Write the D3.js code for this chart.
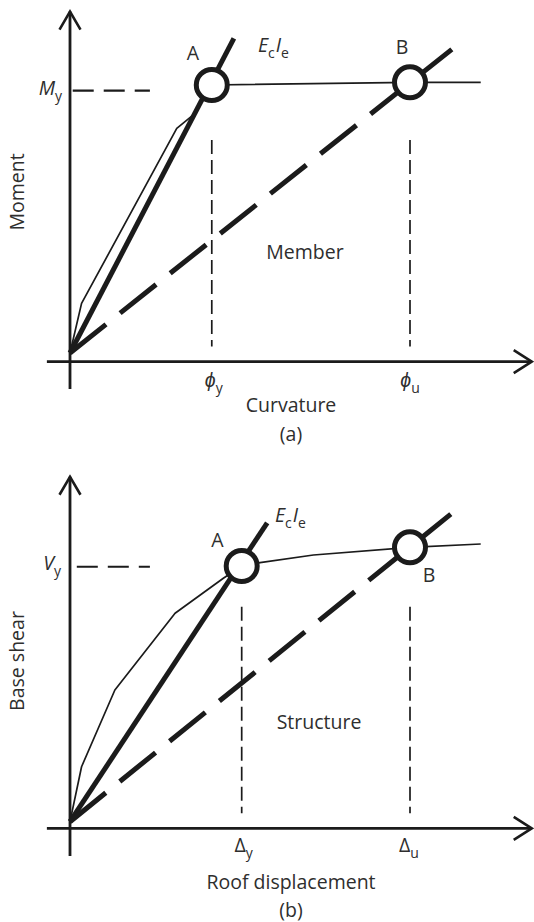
<!DOCTYPE html>
<html lang="en">
<head>
    <meta charset="UTF-8">
    <title>Moment-curvature and pushover idealisation</title>
    <style>
        body { margin: 0; background: #fff; }
        svg { display: block; }
        text { font-family: "Open Sans", sans-serif; fill: #2e2e2e; }
    </style>
</head>
<body>
<svg width="534" height="922"></svg>

<script src="https://d3js.org/d3.v7.min.js"></script>
<script>
    // ---- panel (a): member, moment vs curvature (arbitrary units, phi_u = 10, M_y = 10)
    const memberCurve = [[0, 0], [0.34, 1.85], [3.14, 8.38], [3.68, 8.94], [4.17, 10], [10, 10.1], [12.08, 10.1]];
    const memberStiff = [[0, 0], [4.82, 11.74]];         // EcIe line
    const memberUlt = [[0, 0], [11.23, 11.33]];          // secant to ultimate point
    const memberPts = [{name: "A", x: 4.17, y: 10}, {name: "B", x: 10, y: 10.1}];
    const memberMarks = {yieldX: 4.17, ultX: 10, yieldY: 9.79};

    // ---- panel (b): structure, base shear vs roof displacement
    const structCurve = [[0, 0], [0.34, 2.15], [1.32, 5.15], [3.09, 8.15], [4.51, 9.52], [5.05, 10], [5.59, 10.13], [7.16, 10.43], [10, 10.73], [12.08, 10.86]];
    const structStiff = [[0, 0], [5.8, 11.69]];
    const structUlt = [[0, 0], [11.2, 12.03]];
    const structPts = [{name: "A", x: 5.05, y: 10}, {name: "B", x: 10, y: 10.73}];
    const structMarks = {yieldX: 5.05, ultX: 10, yieldY: 9.97};

    const svg = d3.select('svg');
    const ink = "#1b1b1b";
    const fs = 19.5, fsSub = 14;

    function panel(opt) {
        const g = svg.append('g');
        const x = d3.scaleLinear().domain([0, 10]).range([70, 410]);
        const y = d3.scaleLinear().domain([0, 10]).range([opt.y0, opt.y10]);
        const line = d3.line().x(d => x(d[0])).y(d => y(d[1]));

        // axes
        const axY = y(opt.axisY);
        g.append('line').attr('x1', x(-0.68)).attr('x2', x(13.58)).attr('y1', axY).attr('y2', axY)
            .attr('stroke', ink).attr('stroke-width', 2.8);
        g.append('line').attr('x1', x(0)).attr('x2', x(0)).attr('y1', y(opt.yBottom)).attr('y2', y(opt.yTop))
            .attr('stroke', ink).attr('stroke-width', 2.8);
        // open arrow heads
        const tipX = x(13.58), tipY = y(opt.yTop);
        g.append('path').attr('d', `M${tipX - 18},${axY - 11.5}L${tipX},${axY}L${tipX - 18},${axY + 11.5}`)
            .attr('fill', 'none').attr('stroke', ink).attr('stroke-width', 2.6);
        g.append('path').attr('d', `M${x(0) - 10.5},${tipY + 18}L${x(0)},${tipY}L${x(0) + 10.5},${tipY + 18}`)
            .attr('fill', 'none').attr('stroke', ink).attr('stroke-width', 2.6);

        // yield level dash off the y axis
        g.append('line').attr('x1', x(opt.dashFrom)).attr('x2', x(2.35))
            .attr('y1', y(opt.marks.yieldY)).attr('y2', y(opt.marks.yieldY))
            .attr('stroke', ink).attr('stroke-width', 2.2).attr('stroke-dasharray', '21,10');

        // vertical dashed guides
        [opt.marks.yieldX, opt.marks.ultX].forEach(v => {
            g.append('line').attr('x1', x(v)).attr('x2', x(v)).attr('y1', y(opt.guideTop)).attr('y2', y(opt.guideBottom))
                .attr('stroke', ink).attr('stroke-width', 1.7).attr('stroke-dasharray', '14,6');
        });

        // thin curve
        g.append('path').attr('d', line(opt.curve)).attr('fill', 'none')
            .attr('stroke', ink).attr('stroke-width', 1.7).attr('stroke-linejoin', 'round');
        // EcIe line
        g.append('path').attr('d', line(opt.stiff)).attr('fill', 'none')
            .attr('stroke', ink).attr('stroke-width', 5);
        // dashed secant to ultimate
        g.append('path').attr('d', line(opt.ult)).attr('fill', 'none')
            .attr('stroke', ink).attr('stroke-width', 5).attr('stroke-dasharray', '46,18');

        // hinge circles
        g.selectAll('circle').data(opt.pts).enter().append('circle')
            .attr('cx', d => x(d.x)).attr('cy', d => y(d.y)).attr('r', 15.5)
            .attr('fill', '#fff').attr('stroke', ink).attr('stroke-width', 5);

        // plain labels
        opt.labels.forEach(l => {
            g.append('text').attr('x', l.x).attr('y', l.y).attr('font-size', fs)
                .attr('text-anchor', l.anchor || 'start').text(l.t);
        });
        return {g, x, y};
    }

    function subText(g, px, py, main, sub, anchor, italic) {
        const t = g.append('text').attr('x', px).attr('y', py).attr('font-size', fs).attr('text-anchor', anchor || 'start');
        t.append('tspan').attr('font-style', italic ? 'italic' : 'normal').text(main);
        t.append('tspan').attr('font-size', fsSub).attr('dy', 6).text(sub);
        return t;
    }

    function ecie(g, px, py) {
        const t = g.append('text').attr('x', px).attr('y', py).attr('font-size', fs);
        t.append('tspan').attr('font-style', 'italic').text('E');
        t.append('tspan').attr('font-size', fsSub).attr('dy', 6).text('c');
        t.append('tspan').attr('font-style', 'italic').attr('dy', -6).attr('dx', 1).text('I');
        t.append('tspan').attr('font-size', fsSub).attr('dy', 6).text('e');
    }

    // panel a
    const a = panel({
        y0: 353, y10: 85, axisY: -0.32, yBottom: -1.34, yTop: 12.74, dashFrom: 0.08,
        guideTop: 7.95, guideBottom: 0.24,
        curve: memberCurve, stiff: memberStiff, ult: memberUlt, pts: memberPts, marks: memberMarks,
        labels: [
            {t: "A", x: 193, y: 60, anchor: 'middle'},
            {t: "B", x: 402, y: 54, anchor: 'middle'},
            {t: "Member", x: 305, y: 259, anchor: 'middle'},
            {t: "Curvature", x: 291, y: 412, anchor: 'middle'},
            {t: "(a)", x: 291, y: 441, anchor: 'middle'}
        ]
    });
    ecie(a.g, 258, 52);
    subText(a.g, 62, 95, 'M', 'y', 'end', true);
    subText(a.g, a.x(memberMarks.yieldX) + 2, 387, 'ϕ', 'y', 'middle', true);
    subText(a.g, a.x(memberMarks.ultX), 387, 'ϕ', 'u', 'middle', true);
    a.g.append('text').attr('transform', 'translate(23.5,192) rotate(-90)').attr('font-size', fs)
        .attr('text-anchor', 'middle').text('Moment');

    // panel b
    const b = panel({
        y0: 821.7, y10: 566, axisY: -0.26, yBottom: -1.34, yTop: 13.49, dashFrom: 0.2,
        guideTop: 8.41, guideBottom: 0.33,
        curve: structCurve, stiff: structStiff, ult: structUlt, pts: structPts, marks: structMarks,
        labels: [
            {t: "A", x: 217.5, y: 547, anchor: 'middle'},
            {t: "B", x: 429, y: 582, anchor: 'middle'},
            {t: "Structure", x: 319, y: 729, anchor: 'middle'},
            {t: "Roof displacement", x: 291, y: 889, anchor: 'middle'},
            {t: "(b)", x: 291, y: 917, anchor: 'middle'}
        ]
    });
    ecie(b.g, 275, 521.5);
    subText(b.g, 61, 570, 'V', 'y', 'end', true);
    subText(b.g, b.x(structMarks.yieldX) + 2, 851.5, 'Δ', 'y', 'middle', false);
    subText(b.g, b.x(structMarks.ultX) - 1, 851.5, 'Δ', 'u', 'middle', false);
    b.g.append('text').attr('transform', 'translate(23.5,661) rotate(-90)').attr('font-size', fs)
        .attr('text-anchor', 'middle').text('Base shear');
</script>
</body>
</html>
